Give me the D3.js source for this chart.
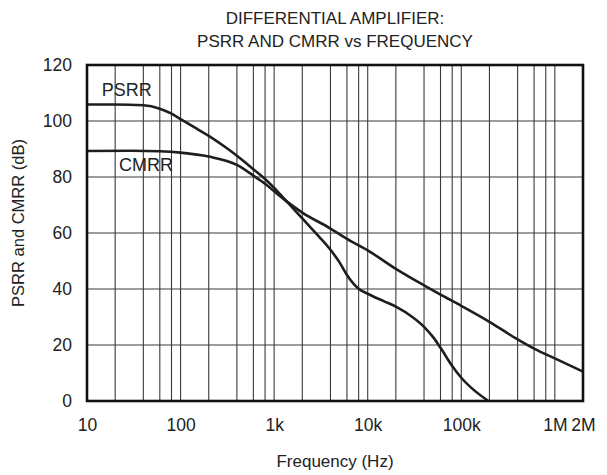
<!DOCTYPE html>
<html>
<head>
<meta charset="utf-8">
<script src="https://cdn.jsdelivr.net/npm/d3@7"></script>
<style>
  body { margin: 0; background: #fff; }
  text { font-family: "Liberation Sans", Arial, sans-serif; fill: #222; }
</style>
</head>
<body>
<div id="chart"></div>
<script>
// values
const titleLines = ["DIFFERENTIAL AMPLIFIER:", "PSRR AND CMRR vs FREQUENCY"];
const xTickValues = [10, 100, 1e3, 1e4, 1e5, 1e6, 2e6];
const xTickLabels = ["10", "100", "1k", "10k", "100k", "1M", "2M"];
const yTicks = [0, 20, 40, 60, 80, 100, 120];
const gridMultipliers = [1, 2, 4, 6, 8];
const decades = [10, 100, 1e3, 1e4, 1e5, 1e6];

const psrrFreq = [10, 20, 40, 60, 80, 100, 150, 200, 300, 400, 600, 800, 1000, 1370, 2000, 3000, 4000, 5000, 6000, 7000, 8000, 10000, 15000, 20000, 30000, 40000, 50000, 60000, 80000, 100000, 130000, 195000];
const psrrDb   = [105.9, 105.9, 105.6, 104.4, 102.6, 100.7, 97.2, 94.7, 90.7, 87.6, 82.8, 79.3, 76.1, 71.2, 65.2, 58.8, 54, 49.5, 45, 42, 40.1, 38.3, 35.6, 33.7, 30, 26.5, 22.8, 19, 12.5, 8.3, 4.5, 0];

const cmrrFreq = [10, 30, 60, 100, 200, 400, 600, 800, 1000, 1370, 2000, 4000, 6000, 10000, 20000, 40000, 60000, 100000, 200000, 400000, 600000, 1000000, 2000000];
const cmrrDb   = [89.3, 89.4, 89.2, 88.7, 87.3, 84.3, 80.5, 77.6, 74.9, 71.2, 67.3, 61.6, 57.9, 53.8, 47.2, 41.3, 38, 34, 28.3, 22, 18.7, 15.2, 10.5];

const curveLabels = [
  { text: "PSRR", f: 14.4, db: 108.9 },
  { text: "CMRR", f: 22, db: 82.3 }
];

const width = 607, height = 475;
const margin = { top: 65, right: 24, bottom: 74, left: 87 };

const svg = d3.select("#chart").append("svg")
  .attr("width", width)
  .attr("height", height);

const x = d3.scaleLog().domain([10, 2e6]).range([margin.left, width - margin.right]);
const y = d3.scaleLinear().domain([0, 120]).range([height - margin.bottom, margin.top]);

// title
svg.append("g").selectAll("text")
  .data(titleLines)
  .enter().append("text")
  .attr("x", (x.range()[0] + x.range()[1]) / 2)
  .attr("y", (d, i) => 24 + i * 23)
  .attr("text-anchor", "middle")
  .style("font-size", "17px")
  .text(d => d);

// grid
const gridX = [];
decades.forEach(d => gridMultipliers.forEach(m => {
  const v = d * m;
  if (v > 10 && v < 2e6) gridX.push(v);
}));

svg.append("g")
  .selectAll("line")
  .data(gridX)
  .enter().append("line")
  .attr("x1", d => x(d)).attr("x2", d => x(d))
  .attr("y1", y(0)).attr("y2", y(120))
  .attr("stroke", "#3a3a3a")
  .attr("stroke-width", 1.1);

svg.append("g")
  .selectAll("line")
  .data(yTicks.slice(1, -1))
  .enter().append("line")
  .attr("x1", x(10)).attr("x2", x(2e6))
  .attr("y1", d => y(d)).attr("y2", d => y(d))
  .attr("stroke", "#3a3a3a")
  .attr("stroke-width", 1.1);

// axes (labels only)
const xAxis = d3.axisBottom(x)
  .tickValues(xTickValues)
  .tickFormat((d, i) => xTickLabels[i])
  .tickSize(0)
  .tickPadding(18);

svg.append("g")
  .attr("transform", `translate(0,${y(0)})`)
  .call(xAxis)
  .call(g => g.select(".domain").remove())
  .selectAll("text")
  .style("font-size", "17.5px")
  .attr("fill", "#222");

const yAxis = d3.axisLeft(y)
  .tickValues(yTicks)
  .tickSize(0)
  .tickPadding(15);

svg.append("g")
  .attr("transform", `translate(${x(10)},0)`)
  .call(yAxis)
  .call(g => g.select(".domain").remove())
  .selectAll("text")
  .style("font-size", "17.5px")
  .attr("fill", "#222");

// curves
const line = d3.line()
  .x(d => x(d[0]))
  .y(d => y(d[1]))
  .curve(d3.curveMonotoneX);

svg.append("path")
  .datum(d3.zip(psrrFreq, psrrDb))
  .attr("d", line)
  .attr("fill", "none")
  .attr("stroke", "#1e1e1e")
  .attr("stroke-width", 2.6);

svg.append("path")
  .datum(d3.zip(cmrrFreq, cmrrDb))
  .attr("d", line)
  .attr("fill", "none")
  .attr("stroke", "#1e1e1e")
  .attr("stroke-width", 2.6);

// frame
svg.append("rect")
  .attr("x", x(10)).attr("y", y(120))
  .attr("width", x(2e6) - x(10))
  .attr("height", y(0) - y(120))
  .attr("fill", "none")
  .attr("stroke", "#111")
  .attr("stroke-width", 2.6);

// curve labels
svg.append("g").selectAll("text")
  .data(curveLabels)
  .enter().append("text")
  .attr("x", d => x(d.f))
  .attr("y", d => y(d.db))
  .style("font-size", "18px")
  .text(d => d.text);

// axis titles
svg.append("text")
  .attr("x", (x.range()[0] + x.range()[1]) / 2)
  .attr("y", 467)
  .attr("text-anchor", "middle")
  .style("font-size", "17px")
  .text("Frequency (Hz)");

svg.append("text")
  .attr("transform", `translate(24,${(y(0) + y(120)) / 2 - 10}) rotate(-90)`)
  .attr("text-anchor", "middle")
  .style("font-size", "16.5px")
  .text("PSRR and CMRR (dB)");
</script>
</body>
</html>
